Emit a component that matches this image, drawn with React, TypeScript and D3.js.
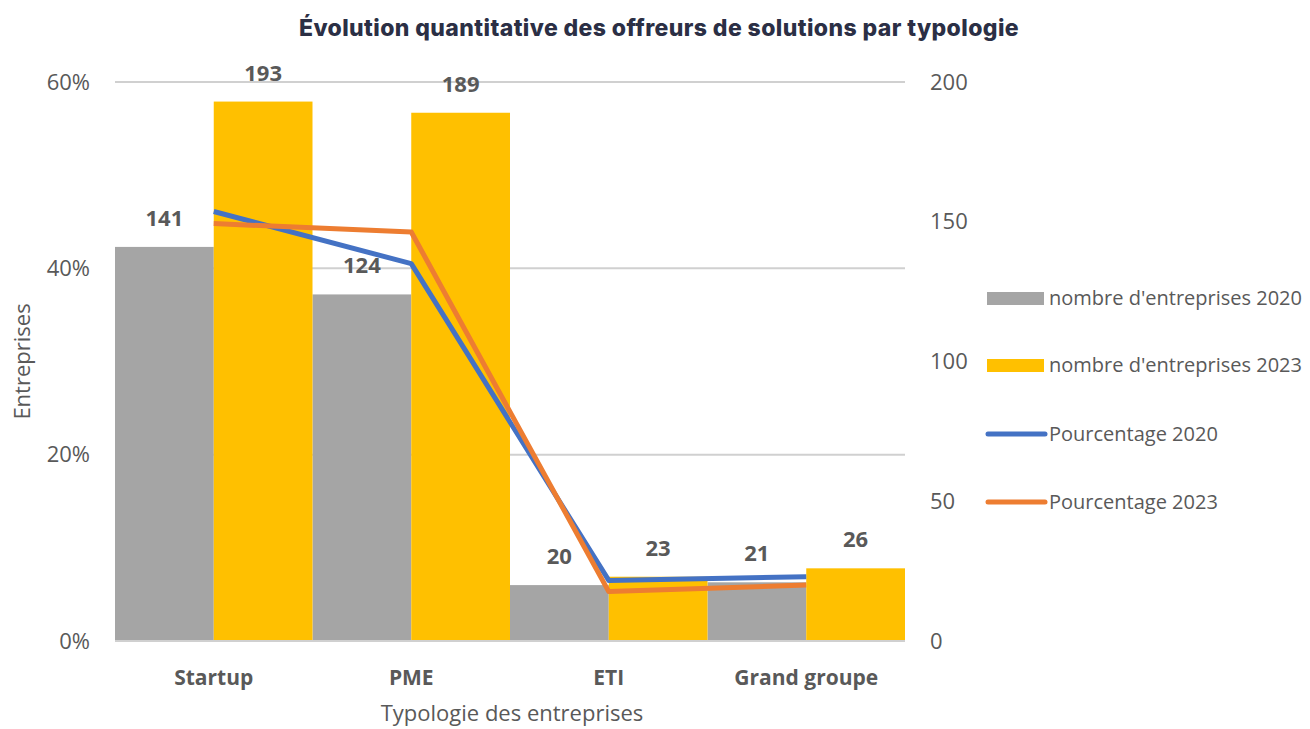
import React from "react";
import * as d3 from "d3";

const categories = ["Startup", "PME", "ETI", "Grand groupe"];
const count2020 = [141, 124, 20, 21];
const count2023 = [193, 189, 23, 26];
const pct2020 = [46.1, 40.5, 6.5, 6.9];
const pct2023 = [44.8, 43.9, 5.3, 6.0];
const leftTicks = [0, 20, 40, 60];
const rightTicks = [0, 50, 100, 150, 200];

const W = 1310;
const H = 729;
const margin = { top: 82, right: 405, bottom: 88, left: 115 };
const innerW = W - margin.left - margin.right;
const innerH = H - margin.top - margin.bottom;

const GRAY = "#A5A5A5";
const YELLOW = "#FFC000";
const BLUE = "#4472C4";
const ORANGE = "#ED7D31";
const TEXT = "#595959";
const FONT = "'Open Sans', 'Noto Sans', sans-serif";

export default function App() {
  const x = d3.scaleBand().domain(categories).range([0, innerW]).padding(0);
  const sub = d3.scaleBand().domain(["2020", "2023"]).range([0, x.bandwidth()]).padding(0);
  const yL = d3.scaleLinear().domain([0, 60]).range([innerH, 0]);
  const yR = d3.scaleLinear().domain([0, 200]).range([innerH, 0]);

  const line = d3
    .line<number>()
    .x((_, i) => (x(categories[i]) ?? 0) + x.bandwidth() / 2)
    .y((d) => yL(d));

  const series = [
    { key: "2020", values: count2020, color: GRAY },
    { key: "2023", values: count2023, color: YELLOW },
  ];

  const legend = [
    { label: "nombre d'entreprises 2020", color: GRAY, type: "rect", y: 298 },
    { label: "nombre d'entreprises 2023", color: YELLOW, type: "rect", y: 365 },
    { label: "Pourcentage 2020", color: BLUE, type: "line", y: 434 },
    { label: "Pourcentage 2023", color: ORANGE, type: "line", y: 502 },
  ];

  return (
    <svg width={W} height={H} style={{ position: "absolute", left: 0, top: 0, background: "#fff" }}>
      <text
        x={659}
        y={36}
        textAnchor="middle"
        fontFamily="Inter, Roboto, sans-serif"
        fontWeight={800}
        fontSize={23}
        fill="#2B2F45"
        letterSpacing={0.4}
      >
        Évolution quantitative des offreurs de solutions par typologie
      </text>

      <g transform={`translate(${margin.left},${margin.top})`}>
        {/* gridlines */}
        {leftTicks.filter((t) => t > 0).map((t) => (
          <line key={t} x1={0} x2={innerW} y1={yL(t)} y2={yL(t)} stroke="#D0D0D0" strokeWidth={2} />
        ))}

        {/* bars */}
        {series.map((s) =>
          s.values.map((v, i) => {
            const bx = (x(categories[i]) ?? 0) + (sub(s.key) ?? 0);
            return (
              <rect
                key={s.key + i}
                x={bx}
                y={yR(v)}
                width={sub.bandwidth()}
                height={innerH - yR(v)}
                fill={s.color}
              />
            );
          })
        )}

        {/* bottom axis line */}
        <line x1={0} x2={innerW} y1={innerH} y2={innerH} stroke="#D0D0D0" strokeWidth={2} />

        {/* data labels */}
        {series.map((s) =>
          s.values.map((v, i) => {
            const bx = (x(categories[i]) ?? 0) + (sub(s.key) ?? 0) + sub.bandwidth() / 2;
            return (
              <text
                key={"l" + s.key + i}
                x={bx}
                y={yR(v) - 21}
                textAnchor="middle"
                fontFamily={FONT}
                fontWeight={700}
                fontSize={22}
                fill={TEXT}
              >
                {v}
              </text>
            );
          })
        )}

        {/* lines */}
        <path d={line(pct2020) ?? ""} fill="none" stroke={BLUE} strokeWidth={5} strokeLinejoin="round" />
        <path d={line(pct2023) ?? ""} fill="none" stroke={ORANGE} strokeWidth={5} strokeLinejoin="round" />

        {/* left ticks */}
        {leftTicks.map((t) => (
          <text
            key={"yl" + t}
            x={-25}
            y={yL(t)}
            dy="0.35em"
            textAnchor="end"
            fontFamily={FONT}
            fontSize={22}
            fill={TEXT}
          >
            {t}%
          </text>
        ))}

        {/* right ticks */}
        {rightTicks.map((t) => (
          <text
            key={"yr" + t}
            x={innerW + 25}
            y={yR(t)}
            dy="0.35em"
            textAnchor="start"
            fontFamily={FONT}
            fontSize={22}
            fill={TEXT}
          >
            {t}
          </text>
        ))}

        {/* category labels */}
        {categories.map((c) => (
          <text
            key={c}
            x={(x(c) ?? 0) + x.bandwidth() / 2}
            y={innerH + 44}
            textAnchor="middle"
            fontFamily={FONT}
            fontWeight={700}
            fontSize={21}
            fill={TEXT}
          >
            {c}
          </text>
        ))}

        <text
          x={innerW / 2 + 2}
          y={innerH + 80}
          textAnchor="middle"
          fontFamily={FONT}
          fontSize={22}
          fill={TEXT}
        >
          Typologie des entreprises
        </text>

        <text
          transform={`translate(${-85},${innerH / 2}) rotate(-90)`}
          textAnchor="middle"
          fontFamily={FONT}
          fontSize={22}
          fill={TEXT}
        >
          Entreprises
        </text>
      </g>

      {/* legend */}
      {legend.map((l) => (
        <g key={l.label}>
          {l.type === "rect" ? (
            <rect x={987} y={l.y - 6} width={57} height={13} fill={l.color} />
          ) : (
            <line x1={988} x2={1045} y1={l.y} y2={l.y} stroke={l.color} strokeWidth={5} strokeLinecap="round" />
          )}
          <text x={1049} y={l.y} dy="0.35em" fontFamily={FONT} fontSize={20} fill={TEXT}>
            {l.label}
          </text>
        </g>
      ))}
    </svg>
  );
}
